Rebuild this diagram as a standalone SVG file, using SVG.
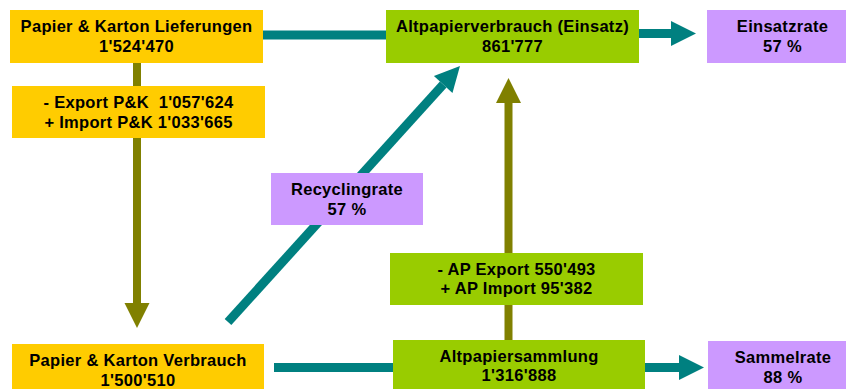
<svg xmlns="http://www.w3.org/2000/svg" width="846" height="389" viewBox="0 0 846 389">
<style>
text{font-family:"Liberation Sans",Arial,sans-serif;font-weight:bold;font-size:16.5px;letter-spacing:0.3px;fill:#000;text-anchor:middle}
.y{fill:#FFCC00}
.g{fill:#99CC00}
.p{fill:#CC99FF}
.t{stroke:#008080;stroke-width:9;fill:none}
.o{stroke:#808000;stroke-width:8;fill:none}
</style>
<defs>
<marker id="ht" markerUnits="userSpaceOnUse" markerWidth="25" markerHeight="25" refX="0" refY="12.5" orient="auto" overflow="visible"><path d="M0,0 L25,12.5 L0,25 Z" fill="#008080"/></marker>
<marker id="ho" markerUnits="userSpaceOnUse" markerWidth="25" markerHeight="25" refX="0" refY="12.5" orient="auto" overflow="visible"><path d="M0,0 L25,12.5 L0,25 Z" fill="#808000"/></marker>
</defs>
<rect width="846" height="389" fill="#fff"/>
<g id="connectors">
<line class="t" x1="263" y1="35" x2="388" y2="35"/>
<line class="t" x1="274" y1="367.5" x2="395" y2="367.5"/>
<line class="t" x1="639" y1="33.5" x2="671" y2="33.5" marker-end="url(#ht)"/>
<line class="t" x1="645" y1="367.5" x2="679" y2="367.5" marker-end="url(#ht)"/>
<line class="t" x1="228" y1="322" x2="443.2" y2="84.5" marker-end="url(#ht)"/>
<line class="o" x1="137" y1="60" x2="137" y2="303" marker-end="url(#ho)"/>
<line class="o" x1="508.5" y1="342" x2="508.5" y2="103" marker-end="url(#ho)"/>
</g>
<g id="lieferungen"><rect class="y" x="10" y="10" width="253" height="53"/><text x="136.5" y="32">Papier &amp; Karton Lieferungen</text><text x="136.5" y="52">1'524'470</text></g>
<g id="exportpk"><rect class="y" x="12" y="86" width="253" height="52"/><text x="138.5" y="108" xml:space="preserve">- Export P&amp;K  1'057'624</text><text x="138.5" y="128">+ Import P&amp;K 1'033'665</text></g>
<g id="verbrauch"><rect class="y" x="12" y="344" width="252" height="50"/><text x="138" y="366">Papier &amp; Karton Verbrauch</text><text x="138" y="386">1'500'510</text></g>
<g id="altpapierverbrauch"><rect class="g" x="386" y="10" width="253" height="53"/><text x="512.5" y="32">Altpapierverbrauch (Einsatz)</text><text x="512.5" y="52">861'777</text></g>
<g id="einsatzrate"><rect class="p" x="707" y="10" width="151" height="53"/><text x="782.5" y="32">Einsatzrate</text><text x="782.5" y="52">57 %</text></g>
<g id="recyclingrate"><rect class="p" x="271" y="173" width="152" height="52"/><text x="347" y="195">Recyclingrate</text><text x="347" y="215">57 %</text></g>
<g id="apexport"><rect class="g" x="390" y="253" width="253" height="52"/><text x="516.5" y="275">- AP Export 550'493</text><text x="516.5" y="294">+ AP Import 95'382</text></g>
<g id="altpapiersammlung"><rect class="g" x="393" y="340" width="252" height="54"/><text x="519" y="362">Altpapiersammlung</text><text x="519" y="381">1'316'888</text></g>
<g id="sammelrate"><rect class="p" x="708" y="341" width="150" height="53"/><text x="783" y="363">Sammelrate</text><text x="783" y="383">88 %</text></g>
</svg>
